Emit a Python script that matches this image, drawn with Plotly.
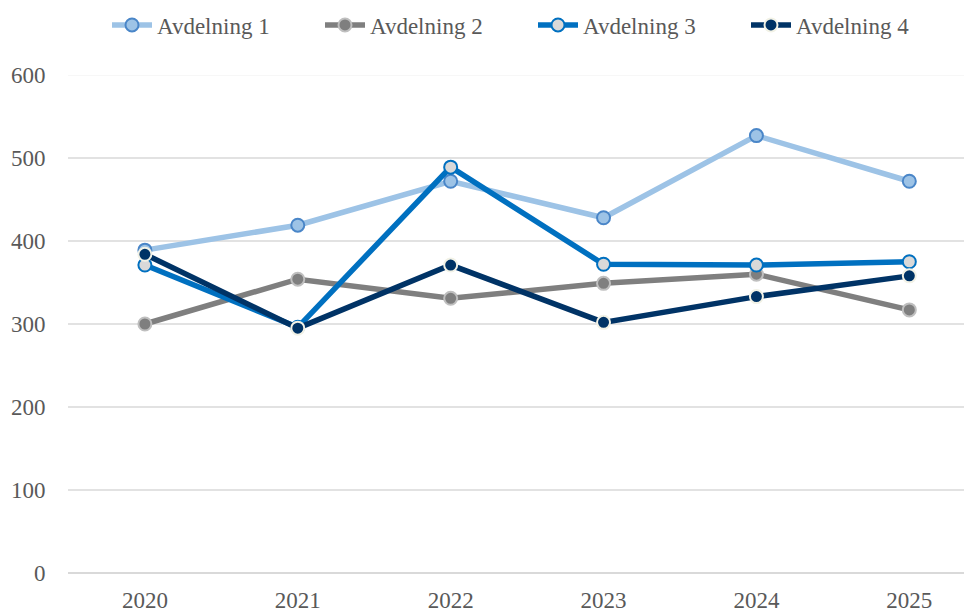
import plotly.graph_objects as go

years = ["2020", "2021", "2022", "2023", "2024", "2025"]
avd1 = [389, 419, 472, 428, 527, 472]
avd2 = [300, 354, 331, 349, 360, 317]
avd3 = [371, 296, 489, 372, 371, 375]
avd4 = [384, 295, 371, 302, 333, 358]
series_names = ["Avdelning 1", "Avdelning 2", "Avdelning 3", "Avdelning 4"]
y_ticks = [0, 100, 200, 300, 400, 500, 600]

styles = [
    dict(line="#9DC3E6", fill="#9DC3E6", border="#4A86C8"),
    dict(line="#7F7F7F", fill="#7F7F7F", border="#BFBFBF"),
    dict(line="#0070C0", fill="#D9D9D9", border="#0070C0"),
    dict(line="#003366", fill="#003366", border="#F2F2E6"),
]

W, H = 964, 604
fig = go.Figure()

# gridlines (top one is nearly invisible in the reference)
for t in y_ticks[1:]:
    fig.add_shape(type="line", xref="paper", x0=0, x1=1, yref="y", y0=t, y1=t,
                  line=dict(color="#F5F5F5" if t == y_ticks[-1] else "#D9D9D9", width=1.5),
                  layer="below")

for name, vals, st in zip(series_names, [avd1, avd2, avd3, avd4], styles):
    fig.add_trace(go.Scatter(
        x=list(range(len(years))), y=vals, name=name, mode="lines+markers",
        line=dict(color=st["line"], width=5.5),
        marker=dict(size=13, color=st["fill"], line=dict(color=st["border"], width=2)),
    ))

font = "Liberation Serif"
fig.update_layout(
    width=W, height=H,
    margin=dict(l=60, r=0, t=67, b=39),
    paper_bgcolor="white", plot_bgcolor="white",
    font=dict(family=font, size=23, color="#595959"),
    showlegend=True,
    legend=dict(orientation="h", x=99 / W, xanchor="left", xref="container",
                y=1 - 17 / H, yanchor="middle", yref="container",
                font=dict(family=font, size=23, color="#595959"),
                entrywidth=158, entrywidthmode="pixels",
                itemwidth=40, tracegroupgap=0, traceorder="normal"),
    xaxis=dict(range=[-0.503, 5.41], tickmode="array",
               tickvals=list(range(len(years))), ticktext=years,
               showgrid=False, zeroline=False, showline=False,
               ticks="outside", ticklen=6, tickcolor="rgba(0,0,0,0)",
               tickfont=dict(family=font, size=23, color="#595959")),
    yaxis=dict(range=[0, 600], tickvals=y_ticks, showgrid=False,
               zeroline=True, zerolinecolor="#D9D9D9", zerolinewidth=1.5,
               showline=False,
               ticks="outside", ticklen=17, tickcolor="rgba(0,0,0,0)",
               tickfont=dict(family=font, size=23, color="#595959")),
)
fig.write_html("out.html")
